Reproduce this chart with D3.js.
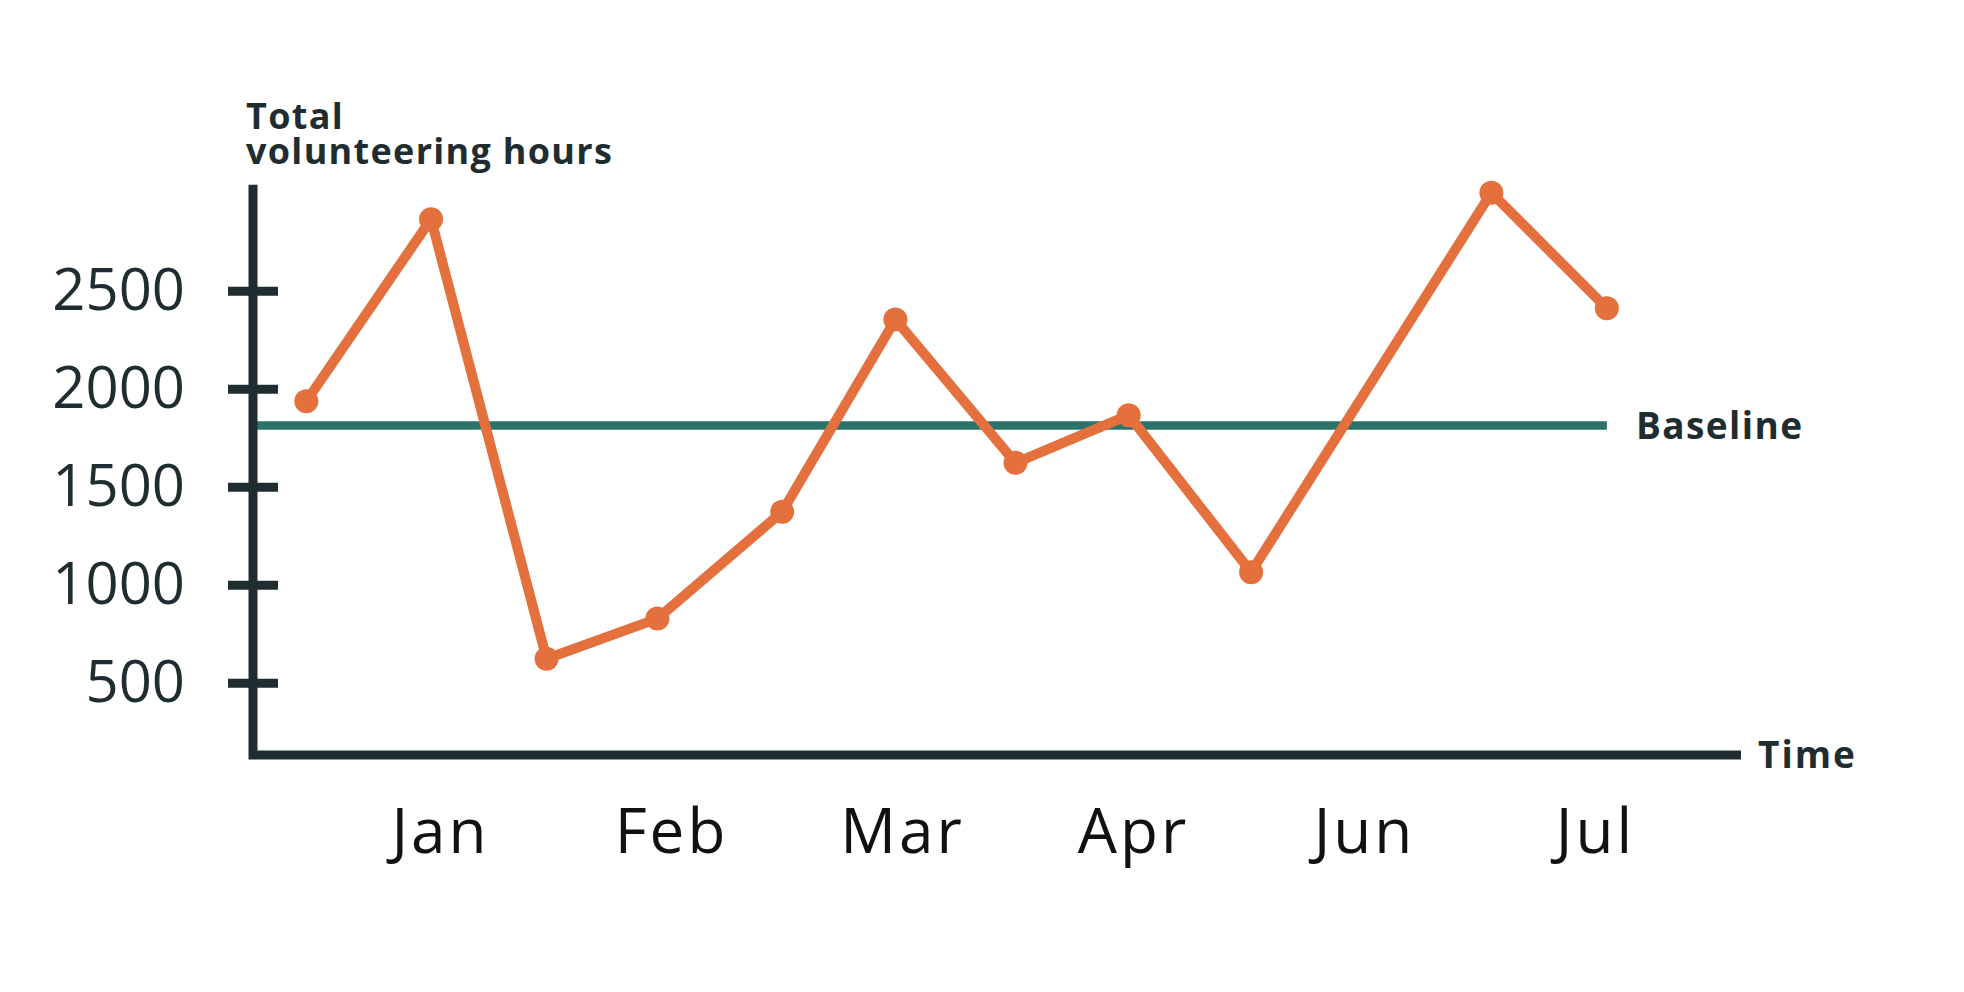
<!DOCTYPE html>
<html>
<head>
<meta charset="utf-8">
<script src="https://cdn.jsdelivr.net/npm/d3@7"></script>
<style>
  html, body { margin: 0; padding: 0; background: #ffffff; }
  svg { display: block; }
</style>
</head>
<body>
<svg id="chart" width="1964" height="992"></svg>
<script>
// ---- data ----
const monthLabels = ["Jan", "Feb", "Mar", "Apr", "Jun", "Jul"];
const monthPositions = [1, 2, 3, 4, 5, 6];
const pointPositions = [0.43, 0.97, 1.47, 1.95, 2.49, 2.98, 3.5, 3.99, 4.52, 5.56, 6.06];
const hours = [1936, 2865, 622, 827, 1372, 2353, 1622, 1865, 1064, 3000, 2410];
const yTicks = [500, 1000, 1500, 2000, 2500];
const baselineValue = 1812;
const axisRange = [131, 3040];

const svg = d3.select("#chart");
const dark = "#1f2d30";
const orange = "#e4703d";
const teal = "#2c736c";
const font = "'Open Sans', 'Noto Sans', sans-serif";

const x = d3.scaleLinear().domain([0, 7]).range([207, 1824]);
const y = d3.scaleLinear().domain([0, 3000]).range([780.7, 192.7]);
const x0 = 253;

// baseline
svg.append("line")
  .attr("x1", x0).attr("x2", x(pointPositions[pointPositions.length - 1]))
  .attr("y1", y(baselineValue)).attr("y2", y(baselineValue))
  .attr("stroke", teal).attr("stroke-width", 8.5);

svg.append("text")
  .attr("x", 1636).attr("y", y(baselineValue))
  .attr("dy", "0.36em")
  .attr("font-family", font).attr("font-weight", 700).attr("font-size", 37)
  .attr("letter-spacing", 1.4)
  .attr("fill", dark)
  .text("Baseline");

// y axis
const yAxis = svg.append("g").attr("transform", `translate(${x0},0)`)
  .call(d3.axisLeft(y).tickValues(yTicks).tickFormat(d3.format("d"))
    .tickSize(0).tickPadding(68));
yAxis.select(".domain").remove();
yAxis.selectAll(".tick line").remove();
yAxis.selectAll(".tick").append("line")
  .attr("x1", -25).attr("x2", 25)
  .attr("stroke", dark).attr("stroke-width", 9);
yAxis.selectAll(".tick text")
  .attr("font-family", font).attr("font-size", 58).attr("font-weight", 400)
  .attr("fill", dark).attr("dy", "0.32em");

// x axis labels
const xAxis = svg.append("g").attr("transform", `translate(0,${y(axisRange[0])})`)
  .call(d3.axisBottom(x).tickValues(monthPositions)
    .tickFormat((d, i) => monthLabels[i]).tickSize(0).tickPadding(54));
xAxis.select(".domain").remove();
xAxis.selectAll(".tick text")
  .attr("font-family", font).attr("font-size", 62).attr("font-weight", 400)
  .attr("letter-spacing", 3).attr("dx", 2)
  .attr("fill", "#111111");

// axis lines
svg.append("path")
  .attr("d", d3.line()([[x0, y(axisRange[1])], [x0, y(axisRange[0])], [1741, y(axisRange[0])]]))
  .attr("fill", "none").attr("stroke", dark).attr("stroke-width", 9)
  .attr("stroke-linejoin", "miter");

svg.append("text")
  .attr("x", 1758).attr("y", y(axisRange[0]))
  .attr("dy", "0.36em")
  .attr("font-family", font).attr("font-weight", 700).attr("font-size", 37)
  .attr("letter-spacing", 2)
  .attr("fill", dark)
  .text("Time");

// y title
const title = svg.append("text")
  .attr("font-family", font).attr("font-weight", 700).attr("font-size", 36)
  .attr("letter-spacing", 1.3)
  .attr("fill", dark);
title.append("tspan").attr("x", 246).attr("y", 129).text("Total");
title.append("tspan").attr("x", 246).attr("y", 164).text("volunteering hours");

// series line
const pts = hours.map((v, i) => [x(pointPositions[i]), y(v)]);
svg.append("path")
  .attr("d", d3.line()(pts))
  .attr("fill", "none").attr("stroke", orange).attr("stroke-width", 10)
  .attr("stroke-linejoin", "round");
svg.selectAll("circle.pt").data(pts).enter().append("circle")
  .attr("class", "pt")
  .attr("cx", d => d[0]).attr("cy", d => d[1]).attr("r", 12)
  .attr("fill", orange);
</script>
</body>
</html>
